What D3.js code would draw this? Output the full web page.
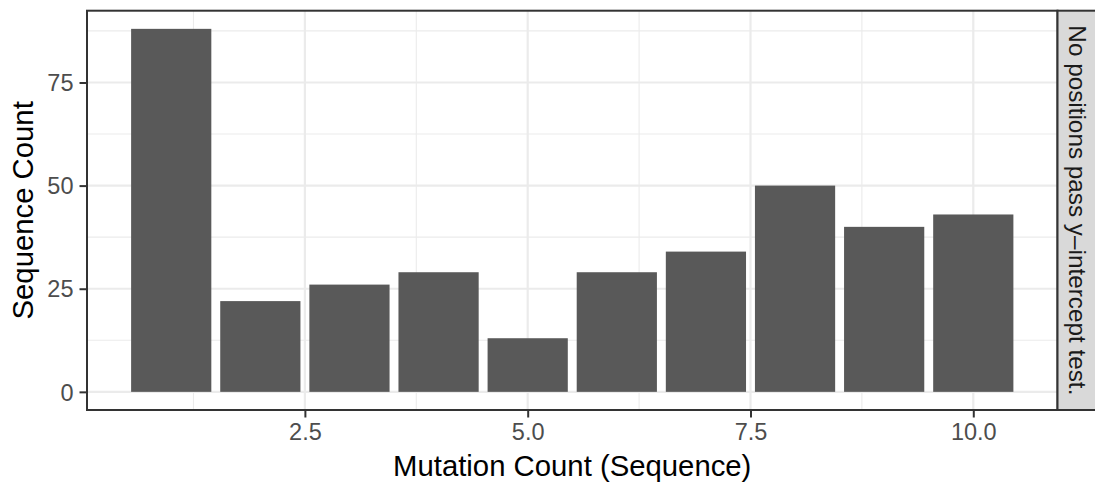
<!DOCTYPE html>
<html>
<head>
<meta charset="utf-8">
<script src="https://cdn.jsdelivr.net/npm/d3@7"></script>
<style>
  html, body { margin: 0; padding: 0; background: #ffffff; }
  svg { display: block; font-family: "Liberation Sans", Arial, Helvetica, sans-serif; }
</style>
</head>
<body>
<svg id="chart" width="1095" height="485"></svg>
<script>
// ---- data ----
const mutationCounts = [1, 2, 3, 4, 5, 6, 7, 8, 9, 10];
const sequenceCounts = [88, 22, 26, 29, 13, 29, 34, 50, 40, 43];
const xTickValues = [2.5, 5.0, 7.5, 10.0];
const yTickValues = [0, 25, 50, 75];
const xMinorValues = [1.25, 3.75, 6.25, 8.75];
const yMinorValues = [12.5, 37.5, 62.5, 87.5];
const xTitle = "Mutation Count (Sequence)";
const yTitle = "Sequence Count";
const stripLabel = "No positions pass y\u2013intercept test.";

// ---- layout ----
const W = 1095, H = 485;
const panel = { left: 87, right: 1057.5, top: 10.7, bottom: 410 };
const stripWidth = 48;
const barWidth = 0.9;

const svg = d3.select("#chart");

// ggplot-like expansion
const xMin = d3.min(mutationCounts) - barWidth / 2;
const xMax = d3.max(mutationCounts) + barWidth / 2;
const xPad = (xMax - xMin) * 0.05;
const yMax = d3.max(sequenceCounts);
const yPad = yMax * 0.05;

const x = d3.scaleLinear().domain([xMin - xPad, xMax + xPad]).range([panel.left, panel.right]);
const y = d3.scaleLinear().domain([0 - yPad, yMax + yPad]).range([panel.bottom, panel.top]);

const g = svg.append("g");

// panel background
g.append("rect")
  .attr("x", panel.left).attr("y", panel.top)
  .attr("width", panel.right - panel.left).attr("height", panel.bottom - panel.top)
  .attr("fill", "#ffffff");

// minor grid
g.selectAll(".ymin").data(yMinorValues).join("line")
  .attr("x1", panel.left).attr("x2", panel.right)
  .attr("y1", d => y(d)).attr("y2", d => y(d))
  .attr("stroke", "#EBEBEB").attr("stroke-width", 1.1);
g.selectAll(".xmin").data(xMinorValues).join("line")
  .attr("y1", panel.top).attr("y2", panel.bottom)
  .attr("x1", d => x(d)).attr("x2", d => x(d))
  .attr("stroke", "#EBEBEB").attr("stroke-width", 1.1);

// major grid
g.selectAll(".ymaj").data(yTickValues).join("line")
  .attr("x1", panel.left).attr("x2", panel.right)
  .attr("y1", d => y(d)).attr("y2", d => y(d))
  .attr("stroke", "#EBEBEB").attr("stroke-width", 2.2);
g.selectAll(".xmaj").data(xTickValues).join("line")
  .attr("y1", panel.top).attr("y2", panel.bottom)
  .attr("x1", d => x(d)).attr("x2", d => x(d))
  .attr("stroke", "#EBEBEB").attr("stroke-width", 2.2);

// bars
g.selectAll(".bar").data(mutationCounts.map((m, i) => ({ m, v: sequenceCounts[i] }))).join("rect")
  .attr("x", d => x(d.m - barWidth / 2))
  .attr("width", d => x(d.m + barWidth / 2) - x(d.m - barWidth / 2))
  .attr("y", d => y(d.v))
  .attr("height", d => y(0) - y(d.v))
  .attr("fill", "#595959");

// panel border
g.append("rect")
  .attr("x", panel.left).attr("y", panel.top)
  .attr("width", panel.right - panel.left).attr("height", panel.bottom - panel.top)
  .attr("fill", "none").attr("stroke", "#333333").attr("stroke-width", 2);

// strip
g.append("rect")
  .attr("x", panel.right).attr("y", panel.top)
  .attr("width", stripWidth).attr("height", panel.bottom - panel.top)
  .attr("fill", "#D9D9D9").attr("stroke", "#333333").attr("stroke-width", 2);
const sx = panel.right + 19.5, sy = (panel.top + panel.bottom) / 2;
g.append("text")
  .attr("transform", `translate(${sx},${sy}) rotate(90)`)
  .attr("text-anchor", "middle").attr("dominant-baseline", "central")
  .attr("font-size", 24.3).attr("fill", "#1A1A1A")
  .text(stripLabel);

// axes (ticks + labels)
const xAxis = d3.axisBottom(x).tickValues(xTickValues).tickSize(7.5).tickPadding(6)
  .tickFormat(d3.format(".1f"));
const yAxis = d3.axisLeft(y).tickValues(yTickValues).tickSize(7.5).tickPadding(6)
  .tickFormat(d3.format("d"));

const gx = svg.append("g").attr("transform", `translate(0,${panel.bottom})`).call(xAxis);
const gy = svg.append("g").attr("transform", `translate(${panel.left},0)`).call(yAxis);
[gx, gy].forEach(a => {
  a.select(".domain").remove();
  a.selectAll(".tick line").attr("stroke", "#333333").attr("stroke-width", 2);
  a.selectAll(".tick text").attr("fill", "#4D4D4D").attr("font-size", 23.5)
    .attr("font-family", "'Liberation Sans', Arial, sans-serif");
});
gy.selectAll(".tick text").attr("dy", "0.35em");

// axis titles
svg.append("text")
  .attr("x", (panel.left + panel.right) / 2).attr("y", 476)
  .attr("text-anchor", "middle").attr("font-size", 29.3).attr("fill", "#000000")
  .text(xTitle);
svg.append("text")
  .attr("transform", `translate(33,${(panel.top + panel.bottom) / 2}) rotate(-90)`)
  .attr("text-anchor", "middle").attr("font-size", 29.3).attr("fill", "#000000")
  .text(yTitle);
</script>
</body>
</html>
